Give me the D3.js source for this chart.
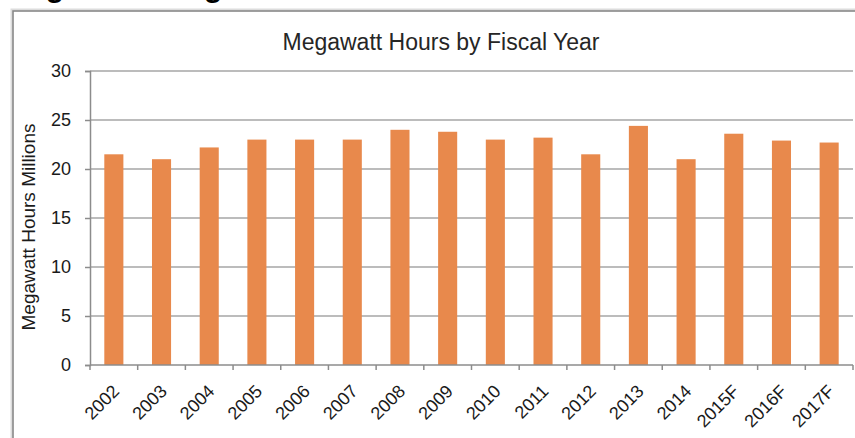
<!DOCTYPE html>
<html>
<head>
<meta charset="utf-8">
<script src="https://cdn.jsdelivr.net/npm/d3@7"></script>
<style>
  body { margin: 0; background: #fff; }
  svg { display: block; font-family: 'Liberation Sans', Arial, sans-serif; }
</style>
</head>
<body>
<div id="chart"></div>
<script>
// megawatt hours bar chart

const years = ['2002', '2003', '2004', '2005', '2006', '2007', '2008', '2009',
  '2010', '2011', '2012', '2013', '2014', '2015F', '2016F', '2017F']
const mwh = [21.5, 21.0, 22.2, 23.0, 23.0, 23.0, 24.0, 23.8,
  23.0, 23.2, 21.5, 24.4, 21.0, 23.6, 22.9, 22.7]
const yTicks = [0, 5, 10, 15, 20, 25, 30]

const width = 855
const height = 438
const margin = { top: 71, right: 2, bottom: 73, left: 90 }

const svg = d3.select('#chart').append('svg')
  .attr('width', width).attr('height', height)

// page heading cut off at the top
svg.append('text')
  .attr('x', 4).attr('y', -3)
  .style('font-size', '30px').style('font-weight', 'bold')
  .attr('fill', '#000')
  .text('Megawatt Usage')

// chart frame
svg.append('rect')
  .attr('x', 12).attr('y', 10).attr('width', 860).attr('height', 440)
  .attr('fill', 'none').attr('stroke', '#dcdcdc').attr('stroke-width', 3)
svg.append('rect')
  .attr('x', 13).attr('y', 11).attr('width', 860).attr('height', 440)
  .attr('fill', 'none').attr('stroke', '#858585').attr('stroke-width', 1.5)

const x = d3.scaleBand()
  .domain(years)
  .range([margin.left, width - margin.right])
  .paddingInner(0.6).paddingOuter(0.3)

const y = d3.scaleLinear()
  .domain([0, 30])
  .range([height - margin.bottom, margin.top])

// gridlines
svg.append('g')
  .selectAll('line')
  .data(yTicks.filter(d => d > 0))
  .join('line')
  .attr('x1', margin.left).attr('x2', width - margin.right)
  .attr('y1', d => y(d)).attr('y2', d => y(d))
  .attr('stroke', '#a6a6a6').attr('stroke-width', 1.5)

// y axis
const yg = svg.append('g').attr('transform', 'translate(' + margin.left + ',0)')
  .call(d3.axisLeft(y).tickValues(yTicks).tickSize(5).tickPadding(14))
yg.select('.domain').attr('stroke', '#8c8c8c').attr('stroke-width', 1.5)
yg.selectAll('.tick line').attr('stroke', '#8c8c8c').attr('stroke-width', 1.5)
yg.selectAll('text').style('font-size', '18px').attr('fill', '#1a1a1a')

// bars
svg.append('g')
  .selectAll('rect')
  .data(years)
  .join('rect')
  .attr('x', d => x(d))
  .attr('width', x.bandwidth())
  .attr('y', (d, i) => y(mwh[i]))
  .attr('height', (d, i) => y(0) - y(mwh[i]))
  .attr('fill', '#e8894c')

// x axis
const step = x.step()
const xg = svg.append('g').attr('transform', 'translate(0,' + y(0) + ')')
xg.append('line')
  .attr('x1', margin.left).attr('x2', width - margin.right)
  .attr('stroke', '#8c8c8c').attr('stroke-width', 1.5)
xg.selectAll('.tk')
  .data(d3.range(years.length + 1))
  .join('line')
  .attr('class', 'tk')
  .attr('x1', i => margin.left + i * step).attr('x2', i => margin.left + i * step)
  .attr('y1', 0).attr('y2', 5)
  .attr('stroke', '#8c8c8c').attr('stroke-width', 1.5)
xg.selectAll('text')
  .data(years)
  .join('text')
  .attr('text-anchor', 'end')
  .attr('transform', d => 'translate(' + (x(d) + x.bandwidth() / 2 + 2) + ',23) rotate(-45)')
  .attr('dy', '0.35em')
  .style('font-size', '18px')
  .attr('fill', '#1a1a1a')
  .text(d => d)

// titles
svg.append('text')
  .attr('x', 441).attr('y', 50)
  .attr('text-anchor', 'middle')
  .style('font-size', '23px')
  .attr('fill', '#262626')
  .text('Megawatt Hours by Fiscal Year')

svg.append('text')
  .attr('transform', 'translate(35,' + 227 + ') rotate(-90)')
  .attr('text-anchor', 'middle')
  .style('font-size', '19px')
  .attr('fill', '#1a1a1a')
  .text('Megawatt Hours Millions')
</script>
</body>
</html>
